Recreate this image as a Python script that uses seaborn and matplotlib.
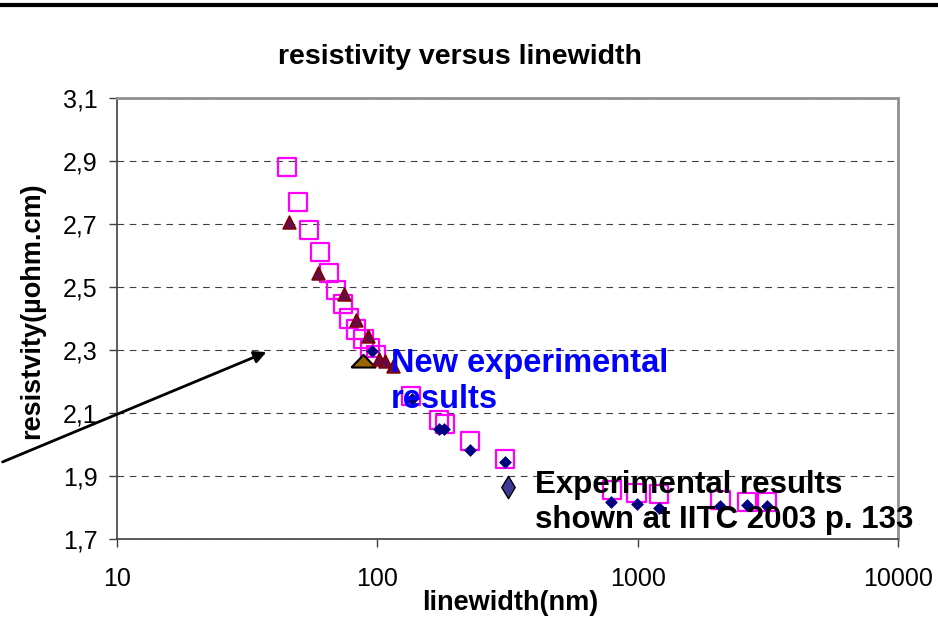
import numpy as np
import pandas as pd
import matplotlib
matplotlib.use('Agg')
import matplotlib.pyplot as plt
from matplotlib.lines import Line2D
from matplotlib.ticker import FixedLocator, NullLocator
import seaborn as sns

# hollow squares (model)
sq_x = [45, 49.5, 54.5, 60, 65, 69.5, 74, 78, 83, 88.5, 94, 99,
        135, 173, 182, 227, 309, 794, 990, 1203, 2080, 2637, 3147]
sq_y = [2.88, 2.77, 2.68, 2.61, 2.545, 2.49, 2.445, 2.40, 2.365, 2.335, 2.305, 2.285,
        2.155, 2.078, 2.065, 2.011, 1.954, 1.855, 1.846, 1.843, 1.824, 1.817, 1.817]

# small diamonds (IITC 2003 data)
dm_x = [95.5, 136, 172, 181, 227, 309, 788, 990, 1203, 2080, 2637, 3147]
dm_y = [2.297, 2.144, 2.049, 2.049, 1.982, 1.944, 1.817, 1.811, 1.798, 1.805, 1.808, 1.805]

# big diamond
bd_x = [318]
bd_y = [1.865]

# triangles (new experimental results)
tr_x = [45.8, 59.2, 74.5, 82.8, 92, 101.6, 107, 115]
tr_y = [2.706, 2.544, 2.478, 2.395, 2.344, 2.271, 2.265, 2.249]

# big triangle
bt_x = [88]
bt_y = [2.265]

y_ticks = [1.7, 1.9, 2.1, 2.3, 2.5, 2.7, 2.9, 3.1]
y_labels = ['1,7', '1,9', '2,1', '2,3', '2,5', '2,7', '2,9', '3,1']
x_ticks = [10, 100, 1000, 10000]
x_labels = ['10', '100', '1000', '10000']

sns.set_style('white')
plt.rcParams['font.family'] = ['Liberation Sans', 'DejaVu Sans']
plt.rcParams['text.color'] = 'black'
plt.rcParams['xtick.color'] = 'black'
plt.rcParams['ytick.color'] = 'black'

fig = plt.figure(figsize=(9.38, 6.34), dpi=100)
ax = fig.add_axes([117/938, 1-539/634, (898-117)/938, (539-98)/634])

sq = pd.DataFrame({'x': sq_x, 'y': sq_y})
dm = pd.DataFrame({'x': dm_x, 'y': dm_y})
tr = pd.DataFrame({'x': tr_x, 'y': tr_y})

sns.scatterplot(data=sq, x='x', y='y', marker='s', s=170, facecolor='none',
                edgecolor='#ff00ff', linewidth=1.6, ax=ax, zorder=3)
sns.scatterplot(data=dm, x='x', y='y', marker='D', s=36, color='#000080',
                edgecolor='#000080', linewidth=0.5, ax=ax, zorder=4)
sns.scatterplot(x=bd_x, y=bd_y, marker='d', s=130, color='#3c3c96',
                edgecolor='black', linewidth=1, ax=ax, zorder=4)
sns.scatterplot(data=tr, x='x', y='y', marker='^', s=85, color='#660a4a',
                edgecolor='#800000', linewidth=1.2, ax=ax, zorder=5)
flat_tri = [(-1, -0.5), (1, -0.5), (0, 0.55), (-1, -0.5)]
sns.scatterplot(x=bt_x, y=bt_y, marker=flat_tri, s=300, color='#9c6400',
                edgecolor='black', linewidth=1.5, ax=ax, zorder=4)

ax.set_xscale('log')
ax.set_xlim(10, 10000)
ax.set_ylim(1.7, 3.1)
ax.xaxis.set_major_locator(FixedLocator(x_ticks))
ax.xaxis.set_minor_locator(NullLocator())
ax.set_xticklabels(x_labels)
ax.set_yticks(y_ticks)
ax.set_yticklabels(y_labels)
ax.tick_params(axis='both', labelsize=18, labelcolor='black', direction='out',
               length=6, width=1, color='#404040', left=True, bottom=True)
ax.tick_params(axis='y', pad=8)
ax.tick_params(axis='x', pad=14)
ax.set_xlabel('')
ax.set_ylabel('')

ax.yaxis.grid(True, linestyle=(0, (6, 5)), color='#404040', linewidth=0.8)
ax.set_axisbelow(True)
for s in ['left', 'bottom']:
    ax.spines[s].set_color('#404040')
    ax.spines[s].set_linewidth(1.2)
for s in ['top', 'right']:
    ax.spines[s].set_color('#909090')
    ax.spines[s].set_linewidth(2)

ax.text(113, 2.305, 'New experimental\nresults', color='#0000ff', fontsize=23.5,
        fontweight='bold', ha='left', va='top', linespacing=1.2, zorder=6)
ax.text(404, 1.92, 'Experimental results\nshown at IITC 2003 p. 133', color='black',
        fontsize=22.5, fontweight='bold', ha='left', va='top', linespacing=1.25, zorder=6)

ax.annotate('', xy=(269, 634-351), xycoords='figure pixels',
            xytext=(0, 634-463), textcoords='figure pixels',
            arrowprops=dict(arrowstyle='-|>', color='black', lw=2, mutation_scale=18),
            annotation_clip=False)

fig.text(460/938, 1-57/634, 'resistivity versus linewidth', fontsize=20.5,
         fontweight='bold', ha='center', va='center')
fig.text(510/938, 1-603/634, 'linewidth(nm)', fontsize=19.5,
         fontweight='bold', ha='center', va='center')
fig.text(32/938, 1-311/634, 'resistvity(µohm.cm)', fontsize=19.5,
         fontweight='bold', ha='center', va='center', rotation=90)

fig.add_artist(Line2D([0, 1], [1-5/634, 1-5/634], color='black', lw=3))

fig.savefig('out.png', dpi=100)
